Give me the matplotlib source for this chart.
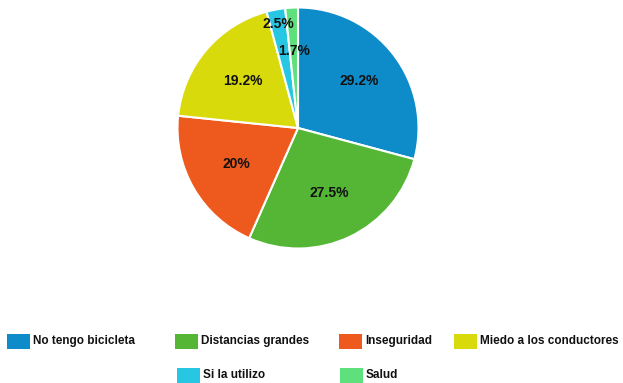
import numpy as np
import matplotlib
matplotlib.use("Agg")
import matplotlib.pyplot as plt
from matplotlib.patches import Rectangle

plt.rcParams['font.family'] = ['Liberation Sans', 'DejaVu Sans']

categories = ['No tengo bicicleta', 'Distancias grandes', 'Inseguridad',
              'Miedo a los conductores', 'Si la utilizo', 'Salud']
values = [29.2, 27.5, 20, 19.2, 2.5, 1.7]
colors = ['#0E8CC9', '#55B636', '#EE5A1E', '#D9DA0C', '#27C6E2', '#5EE07C']

# label distance from centre, as a fraction of the radius
label_dist = [0.64, 0.6, 0.59, 0.6, 0.875, 0.64]

W, H = 623, 383
fig = plt.figure(figsize=(W / 100, H / 100), dpi=100)

cx, cy, r = 298, 128, 120.5
ax = fig.add_axes([(cx - r) / W, (H - cy - r) / H, 2 * r / W, 2 * r / H])
wedges, _ = ax.pie(values, colors=colors, startangle=90, counterclock=False,
                   radius=1, wedgeprops=dict(edgecolor='white', linewidth=1.5))
ax.set_xlim(-1, 1)
ax.set_ylim(-1, 1)
ax.set_aspect('equal')
ax.axis('off')

for w, v, d in zip(wedges, values, label_dist):
    mid = np.deg2rad((w.theta1 + w.theta2) / 2)
    ax.text(d * np.cos(mid), d * np.sin(mid), f'{v:g}%', ha='center',
            va='center', fontsize=10, fontweight='bold', color='#111111')

# legend laid out in two centred rows
legend_x = [7, 175, 339, 454, 177, 340]
legend_y = [341, 341, 341, 341, 375, 375]
box_w, box_h = 23, 15
for name, col, lx, ly in zip(categories, colors, legend_x, legend_y):
    fig.add_artist(Rectangle((lx / W, (H - ly - box_h / 2) / H), box_w / W, box_h / H,
                             transform=fig.transFigure, facecolor=col, edgecolor='none'))
    fig.text((lx + box_w + 3) / W, (H - ly) / H, name, ha='left', va='center',
             fontsize=8.5, fontweight='bold', color='#111111')

fig.savefig('out.png', dpi=100)
